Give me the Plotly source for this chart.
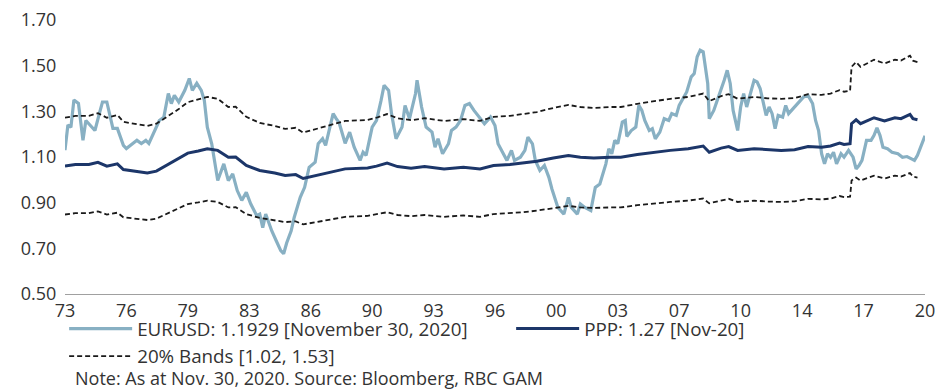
import plotly.graph_objects as go

# ---------------- DATA ----------------
eurusd_dates = [
    "1973-01", "1973-03", "1973-05", "1973-07", "1973-10", "1974-01", "1974-03", "1974-06", "1974-09", "1974-12",
    "1975-02", "1975-05", "1975-09", "1975-12", "1976-04", "1976-06", "1976-09", "1977-01", "1977-04", "1977-07",
    "1977-09", "1978-01", "1978-04", "1978-07", "1978-10", "1978-12", "1979-02", "1979-05", "1979-09", "1979-12",
    "1980-02", "1980-05", "1980-08", "1980-10", "1980-12", "1981-03", "1981-05", "1981-07", "1981-11", "1982-02",
    "1982-05", "1982-08", "1982-11", "1983-02", "1983-05", "1983-09", "1983-11", "1984-01", "1984-03", "1984-07",
    "1984-10", "1985-01", "1985-03", "1985-05", "1985-08", "1985-10", "1986-02", "1986-05", "1986-08", "1986-12",
    "1987-02", "1987-05", "1987-07", "1987-10", "1987-12", "1988-02", "1988-04", "1988-08", "1988-11", "1989-02",
    "1989-06", "1989-08", "1989-10", "1990-02", "1990-05", "1990-08", "1990-10", "1991-01", "1991-03", "1991-06",
    "1991-10", "1991-12", "1992-03", "1992-07", "1992-08", "1992-11", "1993-02", "1993-06", "1993-08", "1993-10",
    "1994-01", "1994-05", "1994-07", "1994-10", "1995-01", "1995-04", "1995-07", "1995-10", "1996-02", "1996-05",
    "1996-09", "1996-12", "1997-02", "1997-04", "1997-08", "1997-11", "1998-01", "1998-05", "1998-08", "1998-10",
    "1999-01", "1999-03", "1999-06", "1999-09", "1999-12", "2000-02", "2000-04", "2000-06", "2000-10", "2001-01",
    "2001-03", "2001-07", "2001-09", "2001-12", "2002-04", "2002-07", "2002-10", "2003-02", "2003-04", "2003-06",
    "2003-08", "2003-10", "2004-01", "2004-03", "2004-04", "2004-07", "2004-10", "2004-12", "2005-02", "2005-04",
    "2005-07", "2005-09", "2005-11", "2006-02", "2006-05", "2006-08", "2006-10", "2007-01", "2007-03", "2007-05",
    "2007-08", "2007-11", "2008-01", "2008-03", "2008-05", "2008-07", "2008-10", "2008-11", "2009-02", "2009-04",
    "2009-07", "2009-09", "2009-11", "2010-01", "2010-03", "2010-06", "2010-08", "2010-10", "2010-12", "2011-02",
    "2011-05", "2011-07", "2011-09", "2012-01", "2012-03", "2012-05", "2012-07", "2012-09", "2012-12", "2013-02",
    "2013-04", "2013-07", "2013-11", "2014-02", "2014-05", "2014-08", "2014-10", "2014-12", "2015-02", "2015-04",
    "2015-06", "2015-08", "2015-10", "2015-12", "2016-03", "2016-05", "2016-08", "2016-11", "2017-01", "2017-03",
    "2017-05", "2017-08", "2017-11", "2018-01", "2018-03", "2018-05", "2018-07", "2018-10", "2019-01", "2019-05",
    "2019-08", "2019-11", "2020-02", "2020-04", "2020-06", "2020-08", "2020-11",
]
eurusd_values = [
    1.130, 1.240, 1.230, 1.350, 1.335, 1.173, 1.260, 1.238, 1.216, 1.291,
    1.341, 1.341, 1.225, 1.225, 1.151, 1.137, 1.151, 1.173, 1.159, 1.173,
    1.159, 1.216, 1.260, 1.274, 1.378, 1.334, 1.370, 1.341, 1.392, 1.444,
    1.392, 1.423, 1.392, 1.348, 1.231, 1.158, 1.085, 0.997, 1.070, 0.997,
    1.026, 0.953, 0.910, 0.945, 0.895, 0.843, 0.850, 0.791, 0.850, 0.777,
    0.733, 0.690, 0.676, 0.723, 0.777, 0.835, 0.923, 0.967, 1.055, 1.077,
    1.158, 1.180, 1.151, 1.231, 1.290, 1.268, 1.250, 1.160, 1.209, 1.143,
    1.085, 1.121, 1.107, 1.231, 1.260, 1.348, 1.414, 1.392, 1.290, 1.180,
    1.231, 1.326, 1.268, 1.378, 1.436, 1.319, 1.231, 1.209, 1.143, 1.180,
    1.114, 1.158, 1.216, 1.231, 1.260, 1.326, 1.334, 1.304, 1.268, 1.246,
    1.275, 1.238, 1.158, 1.136, 1.085, 1.129, 1.085, 1.099, 1.129, 1.187,
    1.158, 1.085, 1.041, 1.063, 1.011, 0.960, 0.923, 0.879, 0.850, 0.923,
    0.879, 0.850, 0.894, 0.879, 0.865, 0.967, 0.982, 1.070, 1.136, 1.114,
    1.173, 1.158, 1.253, 1.260, 1.190, 1.216, 1.231, 1.326, 1.304, 1.260,
    1.216, 1.224, 1.180, 1.209, 1.268, 1.260, 1.290, 1.282, 1.326, 1.348,
    1.385, 1.451, 1.466, 1.539, 1.568, 1.561, 1.422, 1.268, 1.304, 1.341,
    1.392, 1.436, 1.480, 1.422, 1.304, 1.216, 1.319, 1.378, 1.319, 1.363,
    1.436, 1.429, 1.400, 1.282, 1.319, 1.290, 1.224, 1.282, 1.275, 1.326,
    1.290, 1.312, 1.341, 1.363, 1.370, 1.334, 1.260, 1.216, 1.114, 1.070,
    1.114, 1.099, 1.121, 1.070, 1.114, 1.099, 1.129, 1.099, 1.048, 1.063,
    1.085, 1.173, 1.173, 1.195, 1.228, 1.195, 1.143, 1.136, 1.121, 1.114,
    1.099, 1.102, 1.092, 1.085, 1.107, 1.143, 1.193,
]

ppp_dates = [
    "1973-01", "1973-08", "1974-05", "1974-11", "1975-05", "1975-12", "1976-04", "1976-12", "1977-08", "1978-02",
    "1978-10", "1979-05", "1979-11", "1980-06", "1980-12", "1981-07", "1982-02", "1982-07", "1983-02", "1983-11",
    "1984-09", "1985-04", "1985-11", "1986-04", "1987-01", "1987-12", "1988-08", "1989-11", "1990-05", "1990-12",
    "1991-07", "1992-04", "1993-01", "1994-02", "1995-03", "1996-02", "1996-11", "1997-10", "1998-07", "1999-04",
    "2000-03", "2001-01", "2001-09", "2002-06", "2003-05", "2003-12", "2004-11", "2005-10", "2006-09", "2007-09",
    "2008-07", "2008-11", "2009-07", "2009-12", "2010-06", "2011-05", "2012-02", "2012-11", "2013-08", "2014-05",
    "2015-02", "2015-08", "2016-02", "2016-05", "2016-09", "2016-10", "2017-01", "2017-04", "2018-01", "2018-08",
    "2019-03", "2019-07", "2020-01", "2020-03", "2020-06",
]
ppp_values = [
    1.060, 1.067, 1.067, 1.077, 1.060, 1.070, 1.045, 1.038, 1.030, 1.038,
    1.067, 1.092, 1.117, 1.126, 1.136, 1.129, 1.099, 1.100, 1.063, 1.041,
    1.030, 1.019, 1.023, 1.006, 1.019, 1.037, 1.048, 1.052, 1.060, 1.073,
    1.058, 1.051, 1.058, 1.048, 1.055, 1.048, 1.063, 1.067, 1.073, 1.081,
    1.096, 1.107, 1.099, 1.096, 1.099, 1.099, 1.111, 1.121, 1.129, 1.136,
    1.148, 1.121, 1.139, 1.146, 1.129, 1.136, 1.131, 1.129, 1.132, 1.146,
    1.143, 1.148, 1.161, 1.155, 1.158, 1.246, 1.263, 1.246, 1.272, 1.258,
    1.272, 1.268, 1.287, 1.268, 1.263,
]
band_upper = [
    1.272, 1.280, 1.280, 1.292, 1.272, 1.284, 1.254, 1.246, 1.236, 1.246,
    1.280, 1.310, 1.340, 1.351, 1.363, 1.355, 1.319, 1.320, 1.276, 1.249,
    1.236, 1.223, 1.228, 1.207, 1.223, 1.244, 1.258, 1.262, 1.272, 1.288,
    1.270, 1.261, 1.270, 1.258, 1.266, 1.258, 1.276, 1.280, 1.288, 1.297,
    1.315, 1.328, 1.319, 1.315, 1.319, 1.319, 1.333, 1.345, 1.355, 1.363,
    1.378, 1.345, 1.367, 1.375, 1.355, 1.363, 1.357, 1.355, 1.358, 1.375,
    1.372, 1.378, 1.393, 1.386, 1.390, 1.495, 1.516, 1.495, 1.526, 1.510,
    1.526, 1.522, 1.544, 1.522, 1.516,
]
band_lower = [
    0.848, 0.854, 0.854, 0.862, 0.848, 0.856, 0.836, 0.830, 0.824, 0.830,
    0.854, 0.874, 0.894, 0.901, 0.909, 0.903, 0.879, 0.880, 0.850, 0.833,
    0.824, 0.815, 0.818, 0.805, 0.815, 0.830, 0.838, 0.842, 0.848, 0.858,
    0.846, 0.841, 0.846, 0.838, 0.844, 0.838, 0.850, 0.854, 0.858, 0.865,
    0.877, 0.886, 0.879, 0.877, 0.879, 0.879, 0.889, 0.897, 0.903, 0.909,
    0.918, 0.897, 0.911, 0.917, 0.903, 0.909, 0.905, 0.903, 0.906, 0.917,
    0.914, 0.918, 0.929, 0.924, 0.926, 0.997, 1.010, 0.997, 1.018, 1.006,
    1.018, 1.014, 1.030, 1.014, 1.010,
]

tick_dates = [
    "1973-01-01", "1976-06-01", "1979-11-01", "1983-04-01", "1986-09-01",
    "1990-02-01", "1993-07-01", "1996-12-01", "2000-05-01", "2003-10-01",
    "2007-03-01", "2010-08-01", "2014-01-01", "2017-06-01", "2020-11-01",
]
tick_labels = ["73", "76", "79", "83", "86", "90", "93", "96", "00", "03", "07", "10", "14", "17", "20"]
y_tick_values = [0.50, 0.70, 0.90, 1.10, 1.30, 1.50, 1.70]

name_eur = "EURUSD: 1.1929 [November 30, 2020]"
name_ppp = "PPP: 1.27 [Nov-20]"
name_band = "20% Bands [1.02, 1.53]"
note_text = "Note: As at Nov. 30, 2020. Source: Bloomberg, RBC GAM"

# ---------------- STYLE ----------------
FONT = "'Open Sans', 'Noto Sans', sans-serif"
TXT = "#333333"
C_EUR = "#88B0C3"
C_PPP = "#1C3669"
C_BAND = "#1a1a1a"

fig = go.Figure()
fig.add_trace(go.Scatter(x=eurusd_dates, y=eurusd_values, mode="lines", name=name_eur,
                         line=dict(color=C_EUR, width=3.2)))
fig.add_trace(go.Scatter(x=ppp_dates, y=ppp_values, mode="lines", name=name_ppp,
                         line=dict(color=C_PPP, width=3)))
fig.add_trace(go.Scatter(x=ppp_dates, y=band_upper, mode="lines", name=name_band,
                         line=dict(color=C_BAND, width=1.8, dash="5px,3px")))
fig.add_trace(go.Scatter(x=ppp_dates, y=band_lower, mode="lines", name=name_band,
                         showlegend=False, line=dict(color=C_BAND, width=1.8, dash="5px,3px")))

fig.update_layout(
    width=951, height=392,
    margin=dict(l=65, r=26, t=20, b=98, autoexpand=False),
    paper_bgcolor="white", plot_bgcolor="white",
    font=dict(family=FONT, size=18, color=TXT),
    showlegend=True,
    legend=dict(orientation="h", x=-0.001, y=-0.058, xanchor="left", yanchor="top",
                font=dict(family=FONT, size=18.8, color=TXT),
                itemwidth=63, entrywidth=369, entrywidthmode="pixels",
                tracegroupgap=0, bgcolor="rgba(0,0,0,0)"),
    xaxis=dict(type="date", range=["1973-01-01", "2020-11-01"],
               tickmode="array", tickvals=tick_dates, ticktext=tick_labels,
               showgrid=False, zeroline=False, showline=True, linecolor="#a0a0a0", linewidth=1,
               ticks="", ticklabeloverflow="allow",
               tickfont=dict(family=FONT, size=18, color=TXT)),
    yaxis=dict(range=[0.4999, 1.7001], tickmode="array", tickvals=y_tick_values, tickformat=".2f",
               showgrid=False, zeroline=False, showline=False,
               ticks="outside", ticklen=4, tickcolor="rgba(0,0,0,0)", ticklabeloverflow="allow",
               tickfont=dict(family=FONT, size=18, color=TXT)),
    annotations=[dict(text=note_text, xref="paper", yref="paper", x=0.0093, y=-0.3066,
                      xanchor="left", yanchor="middle", showarrow=False,
                      font=dict(family=FONT, size=18, color=TXT))],
)

# remove the page's default 8px body margin so the figure fills the window exactly
fig.write_html("out.html", config={"displayModeBar": False},
               post_script="document.body.style.margin='0';")
